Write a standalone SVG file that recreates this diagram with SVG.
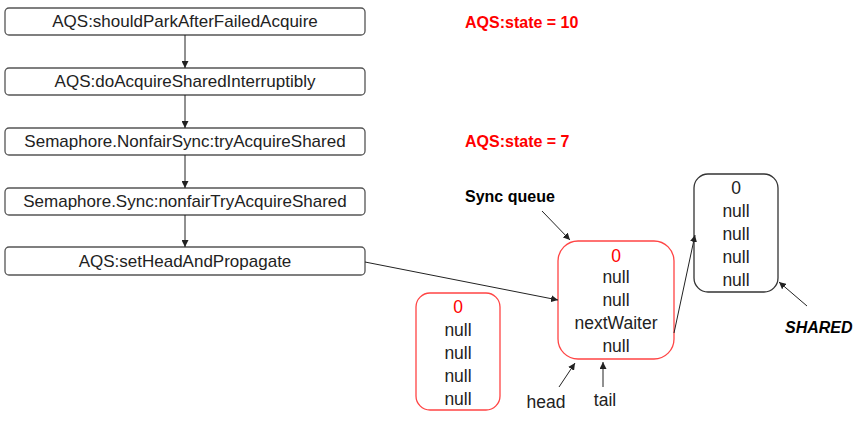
<svg xmlns="http://www.w3.org/2000/svg" width="857" height="424" viewBox="0 0 857 424">
<style>
.box{fill:#fff;stroke:#555;stroke-width:1.3}
.rbox{fill:#fff;stroke:#f44;stroke-width:1.3}
.kbox{fill:#fff;stroke:#333;stroke-width:1.3}
.t{font-family:"Liberation Sans",Arial,sans-serif;font-size:17px;fill:#222;text-anchor:middle;dominant-baseline:central}
.n{font-size:17.5px}
.r{fill:#f00}
.b{font-family:"Liberation Sans",Arial,sans-serif;font-weight:bold;font-size:16px;dominant-baseline:central}
.c{stroke:#222;stroke-width:1;fill:none;marker-end:url(#a)}
</style>
<defs>
<marker id="a" viewBox="0 0 10 10" refX="10" refY="5" markerWidth="7" markerHeight="7" markerUnits="userSpaceOnUse" orient="auto">
<path d="M0,0L10,5L0,10z" fill="#222"/>
</marker>
</defs>
<g id="n1"><rect class="box" x="5" y="8" width="360" height="27" rx="4"/><text class="t" x="185" y="21.5">AQS:shouldParkAfterFailedAcquire</text></g>
<g id="n2"><rect class="box" x="5" y="68" width="360" height="27" rx="4"/><text class="t" x="185" y="81.5">AQS:doAcquireSharedInterruptibly</text></g>
<g id="n3"><rect class="box" x="5" y="128" width="360" height="27" rx="4"/><text class="t" x="185" y="141.5">Semaphore.NonfairSync:tryAcquireShared</text></g>
<g id="n4"><rect class="box" x="5" y="188" width="360" height="27" rx="4"/><text class="t" x="185" y="201.5">Semaphore.Sync:nonfairTryAcquireShared</text></g>
<g id="n5"><rect class="box" x="5" y="247" width="360" height="28" rx="4"/><text class="t" x="185" y="261">AQS:setHeadAndPropagate</text></g>
<g id="s1"><text class="b r" x="465" y="22">AQS:state = 10</text></g>
<g id="s2"><text class="b r" x="465" y="141">AQS:state = 7</text></g>
<g id="lblSync"><text class="b" x="465" y="196" fill="#000">Sync queue</text></g>
<g id="lblShared"><text class="b" x="785" y="327" fill="#000" font-style="italic">SHARED</text></g>
<g id="lblHead"><text class="t n" x="546" y="402">head</text></g>
<g id="lblTail"><text class="t n" x="605" y="400">tail</text></g>
<g id="nodeLeft"><rect class="rbox" x="416" y="293" width="84" height="117" rx="14"/>
<text class="t n r" x="458" y="307">0</text><text class="t n" x="458" y="330">null</text><text class="t n" x="458" y="353">null</text><text class="t n" x="458" y="376">null</text><text class="t n" x="458" y="399">null</text></g>
<g id="nodeSync"><rect class="rbox" x="558" y="241" width="116" height="118" rx="20"/>
<text class="t n r" x="616" y="256">0</text><text class="t n" x="616" y="277">null</text><text class="t n" x="616" y="300">null</text><text class="t n" x="616" y="323">nextWaiter</text><text class="t n" x="616" y="346">null</text></g>
<g id="nodeShared"><rect class="kbox" x="694" y="174" width="84" height="118" rx="14"/>
<text class="t n" x="736" y="188">0</text><text class="t n" x="736" y="211">null</text><text class="t n" x="736" y="234">null</text><text class="t n" x="736" y="257">null</text><text class="t n" x="736" y="280">null</text></g>
<g id="connectors">
<line class="c" x1="185" y1="35" x2="185" y2="68"/>
<line class="c" x1="185" y1="95" x2="185" y2="128"/>
<line class="c" x1="185" y1="155" x2="185" y2="188"/>
<line class="c" x1="185" y1="215" x2="185" y2="247"/>
<line class="c" x1="365" y1="262" x2="558" y2="300"/>
<line class="c" x1="674" y1="333" x2="695" y2="235"/>
<line class="c" x1="542" y1="211" x2="570" y2="240"/>
<line class="c" x1="807" y1="306" x2="779" y2="282"/>
<line class="c" x1="559" y1="387" x2="575" y2="363"/>
<line class="c" x1="603" y1="387" x2="603" y2="362"/>
</g>
</svg>
